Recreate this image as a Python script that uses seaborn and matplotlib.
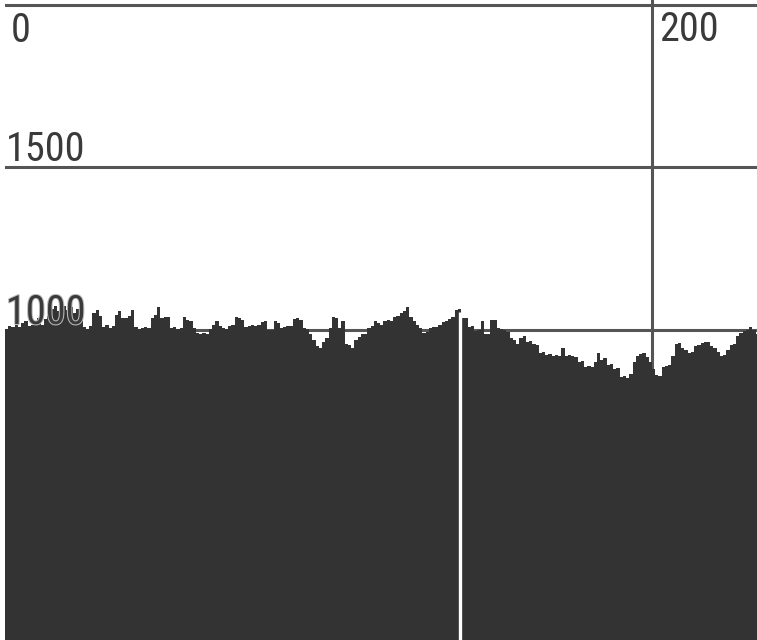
import numpy as np
import pandas as pd
import matplotlib
matplotlib.use("Agg")
import matplotlib.pyplot as plt
import matplotlib.patheffects as pe
from matplotlib import font_manager
import seaborn as sns

# Counts per unit-wide bin, bins 0..232
counts = [
    1003, 1012, 1009, 1015, 1009, 1019, 1025, 1012, 1015, 1025,
    1037, 1015, 1031, 1043, 1062, 1071, 1056, 1065, 1074, 1059,
    1068, 1052, 1062, 1046, 1009, 1003, 1012, 1052, 1059, 1043,
    1009, 1015, 1006, 1012, 1046, 1056, 1037, 1034, 1043, 1059,
    1009, 1003, 1006, 1009, 1006, 1037, 1046, 1068, 1037, 1040,
    1040, 1006, 1009, 1003, 1006, 1040, 1028, 1025, 1006, 988,
    985, 988, 985, 1003, 1015, 1025, 1012, 1006, 1003, 1012,
    1015, 1040, 1037, 1028, 1009, 1012, 1015, 1012, 1015, 1022,
    1025, 1000, 1000, 1025, 1019, 1006, 1009, 1012, 1012, 1031,
    1034, 1028, 1006, 1003, 985, 969, 948, 944, 963, 975,
    1006, 1040, 1037, 1006, 1025, 954, 951, 944, 969, 978,
    985, 985, 1006, 1012, 1025, 1019, 1015, 1025, 1028, 1025,
    1040, 1043, 1052, 1056, 1068, 1040, 1025, 1015, 1006, 988,
    991, 1006, 1009, 1009, 1015, 1022, 1025, 1031, 1040, 1059,
    1062, 1037, 1034, 1009, 1012, 994, 997, 1025, 985, 985,
    1028, 1028, 1006, 1003, 1000, 991, 975, 969, 954, 975,
    981, 963, 966, 954, 951, 929, 932, 923, 926, 917,
    920, 917, 944, 917, 920, 917, 914, 901, 904, 886,
    889, 883, 901, 929, 907, 911, 892, 895, 877, 880,
    855, 858, 852, 864, 901, 917, 926, 929, 914, 901,
    877, 861, 858, 883, 889, 892, 917, 954, 957, 944,
    938, 929, 932, 948, 951, 957, 960, 963, 948, 944,
    932, 917, 920, 938, 951, 954, 981, 988, 994, 997,
    1009, 1000, 985,
]
bin_start = list(range(len(counts)))

y_gridlines = [1000, 1500, 2000]
y_labels = ["1000", "1500"]
x_gridline = 200
x_labels = ["0", "200"]
marker_x = 140.5

df = pd.DataFrame({"value": [b + 0.5 for b in bin_start], "count": counts})

W, H = 757, 640
fig = plt.figure(figsize=(W / 100, H / 100), dpi=100, facecolor="white")
ax = fig.add_axes([5 / W, 0, (W - 5) / W, 1])
ax.set_facecolor("white")

grid_col = "#555555"
for yv in y_gridlines:
    ax.axhline(yv, color=grid_col, lw=2.2, zorder=1)
ax.axvline(x_gridline, color=grid_col, lw=2.2, zorder=1)

sns.histplot(data=df, x="value", weights="count",
             bins=len(counts), binrange=(0, len(counts)), element="step",
             fill=True, color="#333333", alpha=1, linewidth=0, ax=ax)
for coll in ax.collections:
    coll.set_zorder(2)

# marker line through the bars
ax.vlines(marker_x, 0, counts[140] - 8, color="white", lw=2.4, zorder=3)

ax.set_xlim(0, (W - 5) / 3.235)
ax.set_ylim(1000 - (H - 330) / 0.324, 2000 + 5 / 0.324)
ax.set_axis_off()

# pick a condensed face when one is available
names = {f.name for f in font_manager.fontManager.ttflist}
condensed = [n for n in ("Liberation Sans Narrow", "Roboto Condensed") if n in names]
if condensed:
    family, size = [condensed[0], "DejaVu Sans"], 29
else:
    family, size = ["Liberation Sans", "DejaVu Sans"], 26.5

font = dict(family=family, fontsize=size, color="#3a3a3a")

def px_text(x, y, s, outline=False):
    t = fig.text(x / W, 1 - y / H, s, ha="left", va="baseline", zorder=5, **font)
    if outline:
        t.set_path_effects([pe.withStroke(linewidth=1.5, foreground="#bbbbbb")])
    return t

px_text(11, 42, x_labels[0])
px_text(659, 41, x_labels[1])
px_text(6, 161, y_labels[1])
px_text(6, 324, y_labels[0], outline=True)

fig.savefig("out.png", dpi=100, facecolor="white")
